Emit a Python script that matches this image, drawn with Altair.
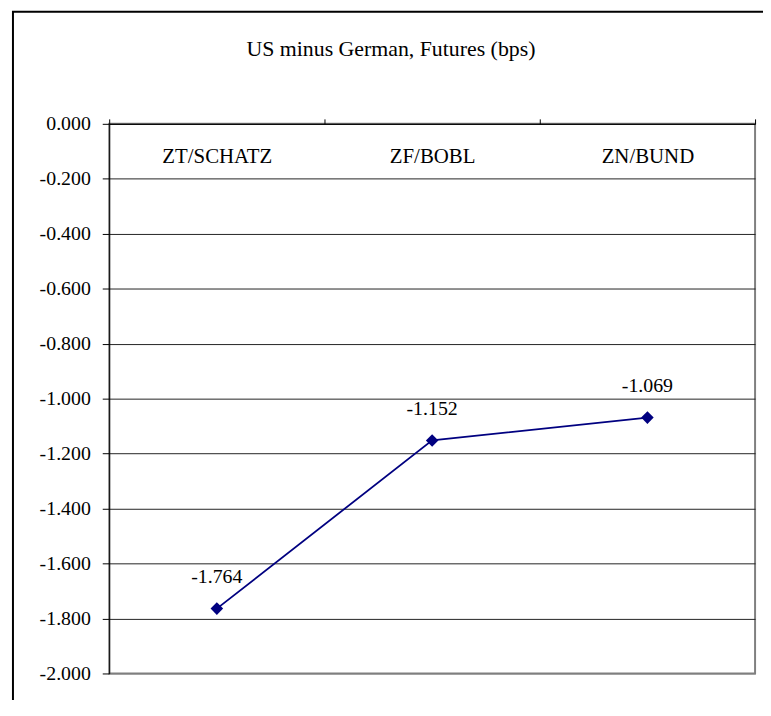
import altair as alt
import pandas as pd

# ---- data ----
categories = ["ZT/SCHATZ", "ZF/BOBL", "ZN/BUND"]
values = [-1.764, -1.152, -1.069]
y_ticks = [-2.0, -1.8, -1.6, -1.4, -1.2, -1.0, -0.8, -0.6, -0.4, -0.2, 0.0]
title_text = "US minus German, Futures (bps)"

df = pd.DataFrame({"pair": categories, "spread": values})
df["label"] = [f"{v:.3f}" for v in values]

FONT = "Liberation Serif"
W, H = 651, 554
NAVY = "#000080"

x_enc = alt.X(
    "pair:N",
    sort=categories,
    scale=alt.Scale(type="band", paddingInner=0, paddingOuter=0),
    axis=alt.Axis(
        orient="top", title=None, labelAngle=0, labelFont=FONT, labelFontSize=21,
        labelColor="black", labelBaseline="middle", labelPadding=-38,
        tickBand="extent", tickSize=5, tickColor="black", domainColor="black",
        grid=False,
    ),
)
y_enc = alt.Y(
    "spread:Q",
    scale=alt.Scale(domain=[-2, 0], nice=False, zero=False),
    axis=alt.Axis(
        values=y_ticks, title=None, labelFont=FONT, labelFontSize=20,
        labelExpr="replace(format(datum.value, '.3f'), '\u2212', '-')",
        labelColor="black", tickSize=7, labelPadding=12, tickColor="black",
        domainColor="black", grid=True,
        gridColor={"condition": {"test": "datum.value <= -1.99", "value": "#808080"}, "value": "#222222"},
    ),
)

base = alt.Chart(df)
line = base.mark_line(color=NAVY, strokeWidth=1.8).encode(x=x_enc, y=y_enc)
pts = base.mark_point(shape="diamond", filled=True, color=NAVY, size=160, opacity=1).encode(
    x=alt.X("pair:N", sort=categories), y="spread:Q"
)
labels = base.mark_text(dy=-32, font=FONT, fontSize=20, color="black").encode(
    x=alt.X("pair:N", sort=categories), y="spread:Q", text="label:N"
)

title = alt.Chart(pd.DataFrame({"t": [title_text]})).mark_text(
    font=FONT, fontSize=22, align="center", baseline="middle", color="black"
).encode(x=alt.value(284), y=alt.value(-75), text="t:N")

border = alt.Chart(pd.DataFrame({"a": [0]})).mark_rect(
    fillOpacity=0, stroke="black", strokeWidth=2
).encode(x=alt.value(-97), x2=alt.value(720), y=alt.value(-113), y2=alt.value(720))

chart = alt.layer(border, line, pts, labels, title).properties(
    width=W, height=H,
    autosize=alt.AutoSizeParams(type="none"),
    padding={"left": 102, "top": 114, "right": 8, "bottom": 24},
    background="white",
).configure_view(stroke="#808080", strokeWidth=2)

chart.save("out.html", embed_options={"renderer": "svg", "actions": False})
